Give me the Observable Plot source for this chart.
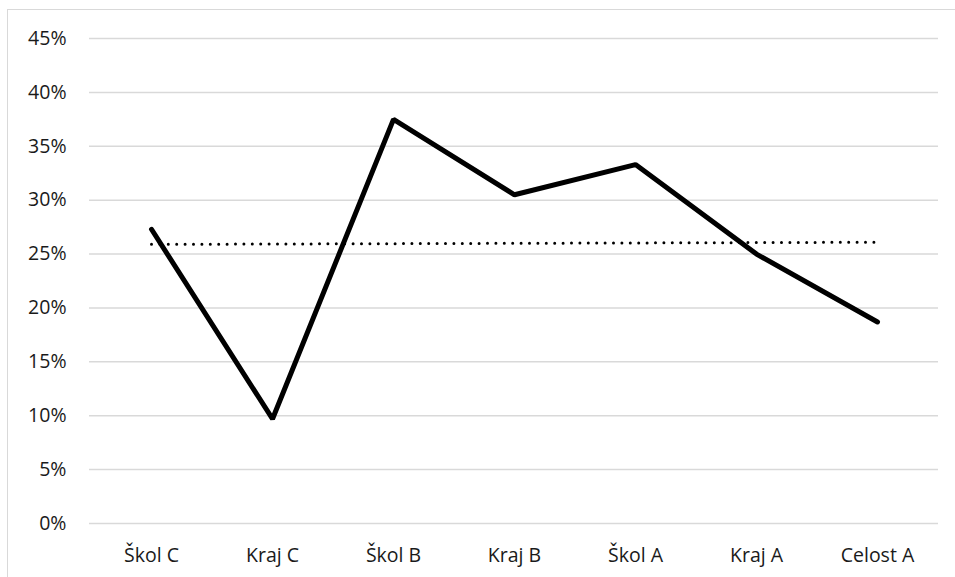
<!DOCTYPE html>
<html>
<head>
<meta charset="utf-8">
<script src="https://cdn.jsdelivr.net/npm/d3@7"></script>
<script src="https://cdn.jsdelivr.net/npm/@observablehq/plot@0.6"></script>
<style>
  body { margin: 0; background: #fff; }
  #wrap { position: relative; width: 955px; height: 577px; overflow: hidden; }
  #border { position: absolute; left: 7px; top: 9px; width: 1000px; height: 600px; border-top: 1.5px solid #d9d9d9; border-left: 1.5px solid #d9d9d9; pointer-events: none; }
</style>
</head>
<body>
<div id="wrap"><div id="border"></div></div>
<script>
const categories = ["Škol C", "Kraj C", "Škol B", "Kraj B", "Škol A", "Kraj A", "Celost A"];
const values = [0.273, 0.097, 0.375, 0.305, 0.333, 0.250, 0.187];
const trendCategories = ["Škol C", "Celost A"];
const trendValues = [0.259, 0.261];
const yTicks = [0, 0.05, 0.10, 0.15, 0.20, 0.25, 0.30, 0.35, 0.40, 0.45];

const data = categories.map((c, i) => ({cat: c, v: values[i]}));
const trend = trendCategories.map((c, i) => ({cat: c, v: trendValues[i]}));

const chart = Plot.plot({
  width: 955,
  height: 577,
  marginLeft: 89,
  marginRight: 17,
  marginTop: 38,
  marginBottom: 54,
  style: {fontFamily: "'Open Sans', 'Noto Sans', sans-serif", fontSize: "20px", color: "#1a1a1a", background: "transparent", position: "relative"},
  x: {type: "point", domain: categories, padding: 0.5, label: null},
  y: {domain: [0, 0.45], ticks: yTicks, label: null},
  marks: [
    Plot.gridY(yTicks, {stroke: "#d9d9d9", strokeOpacity: 1, strokeWidth: 1.5}),
    Plot.axisX({tickSize: 0, tickPadding: 25, fontSize: 19.5, label: null}),
    Plot.axisY({ticks: yTicks, tickFormat: d => Math.round(d * 100) + "%", tickSize: 0, tickPadding: 23, fontSize: 19.5, label: null}),
    Plot.line(trend, {x: "cat", y: "v", stroke: "#000", strokeWidth: 3, strokeDasharray: "0 8.4", strokeLinecap: "round"}),
    Plot.line(data, {x: "cat", y: "v", stroke: "#000", strokeWidth: 5, strokeLinejoin: "miter", strokeLinecap: "round"})
  ]
});
chart.style.position = "absolute";
chart.style.left = "0px";
chart.style.top = "0px";
document.getElementById("wrap").appendChild(chart);
</script>
</body>
</html>
